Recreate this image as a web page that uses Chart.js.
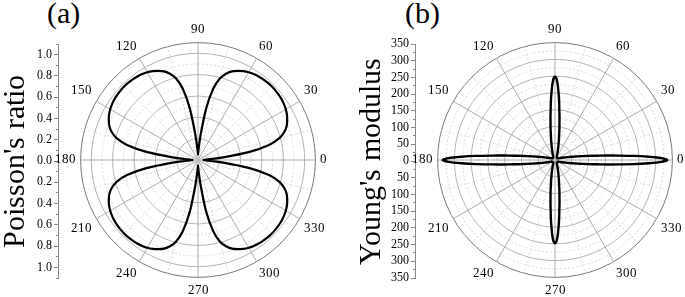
<!DOCTYPE html>
<html>
<head>
<meta charset="utf-8">
<script src="https://cdn.jsdelivr.net/npm/chart.js@4.4.0/dist/chart.umd.min.js"></script>
<style>
    body { margin: 0; width: 685px; height: 297px; overflow: hidden; background: #fff; position: relative; font-family: 'Liberation Serif', serif; }
    canvas { position: absolute; }
    .tag { position: absolute; font-size: 30px; line-height: 30px; color: #000; }
</style>
</head>
<body>
<div class="tag" style="left:47px;top:-2px">(a)</div>
<div class="tag" style="left:405px;top:-2px">(b)</div>
<canvas id="axisA" width="130" height="297" style="left:0;top:0"></canvas>
<canvas id="axisB" width="130" height="297" style="left:354px;top:0"></canvas>
<canvas id="polarA" width="330" height="276" style="left:33px;top:23px"></canvas>
<canvas id="polarB" width="330" height="276" style="left:390px;top:23px"></canvas>
<script>
        // Data (angles in degrees, counter-clockwise from 0 at the right)
        const ANGLES_A = Array.from({ length: 120 }, (_, i) => i * 3);
        const ANGLES_B = Array.from({ length: 360 }, (_, i) => i);

        // Poisson's ratio, every 3 degrees
        const POISSON = [
            0.05, 0.10, 0.24, 0.49, 0.68, 0.79, 0.85, 0.89, 0.915, 0.935, 0.95, 0.96, 0.968, 0.972, 0.975,
            0.976, 0.975, 0.972, 0.968, 0.96, 0.95, 0.935, 0.915, 0.89, 0.85, 0.79, 0.68, 0.49, 0.24, 0.10,
            0.05, 0.10, 0.24, 0.49, 0.68, 0.79, 0.85, 0.89, 0.915, 0.935, 0.95, 0.96, 0.968, 0.972, 0.975,
            0.976, 0.975, 0.972, 0.968, 0.96, 0.95, 0.935, 0.915, 0.89, 0.85, 0.79, 0.68, 0.49, 0.24, 0.10,
            0.05, 0.10, 0.24, 0.49, 0.68, 0.79, 0.85, 0.89, 0.915, 0.935, 0.95, 0.96, 0.968, 0.972, 0.975,
            0.976, 0.975, 0.972, 0.968, 0.96, 0.95, 0.935, 0.915, 0.89, 0.85, 0.79, 0.68, 0.49, 0.24, 0.10,
            0.05, 0.10, 0.24, 0.49, 0.68, 0.79, 0.85, 0.89, 0.915, 0.935, 0.95, 0.96, 0.968, 0.972, 0.975,
            0.976, 0.975, 0.972, 0.968, 0.96, 0.95, 0.935, 0.915, 0.89, 0.85, 0.79, 0.68, 0.49, 0.24, 0.10
        ];

        // Young's modulus, every degree
        const YOUNG = [
            335, 318, 279, 235, 188, 153, 122, 100, 83, 69,
            58, 50, 44, 38, 33, 29, 26, 23, 21, 19,
            17, 16, 15, 14, 13, 13, 12, 12, 11, 11,
            10, 10, 10, 10, 10, 10, 9, 9, 9, 9,
            9, 9, 9, 9, 9, 9, 9, 9, 9, 9,
            9, 9, 9, 9, 9, 10, 10, 10, 10, 10,
            11, 11, 12, 12, 13, 14, 15, 16, 17, 19,
            21, 23, 26, 29, 32, 37, 41, 46, 52, 60,
            69, 80, 95, 109, 129, 149, 176, 201, 226, 243,
            248, 243, 226, 201, 176, 149, 129, 109, 95, 80,
            69, 60, 52, 46, 41, 37, 32, 29, 26, 23,
            21, 19, 17, 16, 15, 14, 13, 12, 12, 11,
            11, 10, 10, 10, 10, 10, 9, 9, 9, 9,
            9, 9, 9, 9, 9, 9, 9, 9, 9, 9,
            9, 9, 9, 9, 9, 10, 10, 10, 10, 10,
            10, 11, 11, 12, 12, 13, 13, 14, 15, 16,
            17, 19, 21, 23, 26, 29, 33, 38, 44, 50,
            58, 69, 83, 100, 122, 153, 188, 235, 279, 318,
            335, 318, 279, 235, 188, 153, 122, 100, 83, 69,
            58, 50, 44, 38, 33, 29, 26, 23, 21, 19,
            17, 16, 15, 14, 13, 13, 12, 12, 11, 11,
            10, 10, 10, 10, 10, 10, 9, 9, 9, 9,
            9, 9, 9, 9, 9, 9, 9, 9, 9, 9,
            9, 9, 9, 9, 9, 10, 10, 10, 10, 10,
            11, 11, 12, 12, 13, 14, 15, 16, 17, 19,
            21, 23, 26, 29, 32, 37, 41, 46, 52, 60,
            69, 80, 95, 109, 129, 149, 176, 201, 226, 243,
            248, 243, 226, 201, 176, 149, 129, 109, 95, 80,
            69, 60, 52, 46, 41, 37, 32, 29, 26, 23,
            21, 19, 17, 16, 15, 14, 13, 12, 12, 11,
            11, 10, 10, 10, 10, 10, 9, 9, 9, 9,
            9, 9, 9, 9, 9, 9, 9, 9, 9, 9,
            9, 9, 9, 9, 9, 10, 10, 10, 10, 10,
            10, 11, 11, 12, 12, 13, 13, 14, 15, 16,
            17, 19, 21, 23, 26, 29, 33, 38, 44, 50,
            58, 69, 83, 100, 122, 153, 188, 235, 279, 318
        ];

        const SERIF = "SerifLocal, 'Liberation Serif', serif";

        // radar runs clockwise, the reference counter-clockwise
        function clockwise(arr) {
            return arr.map((_, i) => arr[(arr.length - i) % arr.length]);
        }

        function sideAxis(id, title, max, step, fmt, padLeft, titlePad) {
            new Chart(document.getElementById(id), {
                type: 'scatter',
                data: { datasets: [] },
                options: {
                    responsive: false, animation: false, devicePixelRatio: 1,
                    layout: { padding: { top: 44, bottom: 19, left: padLeft } },
                    plugins: { legend: { display: false }, tooltip: { enabled: false } },
                    scales: {
                        x: { display: false },
                        y: {
                            min: -max, max: max,
                            ticks: {
                                stepSize: step, autoSkip: false, padding: 2, color: '#000',
                                font: { family: SERIF, size: 12 },
                                callback: v => fmt(v)
                            },
                            grid: {
                                drawOnChartArea: false, tickLength: 4, tickColor: '#888',
                                tickBorderDash: ctx => fmt(ctx.tick.value) === '' ? [0, 2, 2, 20] : []
                            },
                            border: { color: '#888' },
                            title: {
                                display: true, text: title, color: '#000',
                                font: { family: SERIF, size: 30, lineHeight: 1 },
                                padding: titlePad
                            }
                        }
                    }
                }
            });
        }

        function polar(id, angles, values, max, step, lineW) {
            const n = angles.length;
            const deg = i => angles[(n - i) % n];
            const isMajor = v => Math.round(v / step) % 2 === 0;
            const isOuter = v => Math.round(v / step) === Math.round(max / step);
            new Chart(document.getElementById(id), {
                type: 'radar',
                data: {
                    labels: clockwise(angles),
                    datasets: [{
                        data: clockwise(values),
                        borderColor: '#000', borderWidth: lineW,
                        pointRadius: 0, fill: false, tension: 0.2
                    }]
                },
                options: {
                    responsive: false, animation: false, devicePixelRatio: 1,
                    plugins: { legend: { display: false }, tooltip: { enabled: false } },
                    scales: {
                        r: {
                            min: 0, max: max, startAngle: 90,
                            ticks: { display: false, stepSize: step },
                            grid: {
                                circular: true, lineWidth: 1,
                                color: ctx => isOuter(ctx.tick.value) ? '#7a7a7a' : (isMajor(ctx.tick.value) ? '#b4b4b4' : '#d8d8d8')
                            },
                            border: {
                                dash: ctx => (isMajor(ctx.tick.value) || isOuter(ctx.tick.value)) ? [] : [2, 2]
                            },
                            angleLines: {
                                color: ctx => deg(ctx.index) % 30 === 0 ? '#acacac' : '#d8d8d8',
                                lineWidth: ctx => deg(ctx.index) % 15 === 0 ? 1 : 0,
                                borderDash: ctx => deg(ctx.index) % 30 === 0 ? [] : [2, 2]
                            },
                            pointLabels: {
                                padding: 5, color: '#000',
                                font: { family: SERIF, size: 13 },
                                callback: l => l % 30 === 0 ? String(l) : ''
                            }
                        }
                    }
                }
            });
        }

        function draw() {
            sideAxis('axisA', "Poisson's ratio", 1.1, 0.1,
                v => (Math.round(v * 10) % 2 === 0 ? Math.abs(v).toFixed(1) : ''), 1, { top: 0, bottom: 4 });
            sideAxis('axisB', "Young's modulus", 350, 25,
                v => (Math.round(v / 25) % 2 === 0 ? String(Math.abs(v)) : ''), 0, { top: 3, bottom: 2 });

            polar('polarA', ANGLES_A, POISSON, 1.1, 0.1, 2.2);
            polar('polarB', ANGLES_B, YOUNG, 350, 25, 2.4);
        }

        // bind the installed serif face explicitly so the canvases pick it up
        const face = new FontFace('SerifLocal',
            "local('Liberation Serif'), local('LiberationSerif'), local('LiberationSerif-Regular'), local('Times New Roman')");
        face.load().then(f => { document.fonts.add(f); draw(); }).catch(draw);
</script>
</body>
</html>
